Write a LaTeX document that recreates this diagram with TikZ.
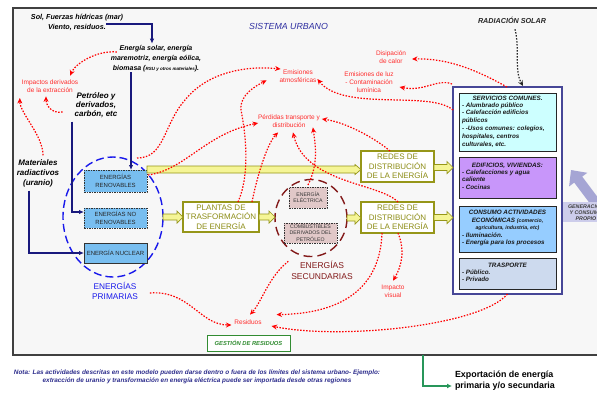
\documentclass[tikz,border=0pt]{standalone}
\usepackage{fontspec}
\setmainfont{Liberation Sans}
\usetikzlibrary{arrows.meta,calc,shapes.geometric}

\definecolor{impred}{RGB}{255,0,0}
\definecolor{labred}{RGB}{255,45,45}
\definecolor{navyln}{RGB}{25,25,125}
\definecolor{olivebd}{RGB}{150,150,25}
\definecolor{olivetx}{RGB}{140,140,20}
\definecolor{yelfill}{RGB}{245,245,150}
\definecolor{primblue}{RGB}{25,25,235}
\definecolor{boxblue}{RGB}{120,190,240}
\definecolor{secred}{RGB}{130,25,25}
\definecolor{secfill}{RGB}{225,200,200}
\definecolor{urbblue}{RGB}{45,45,160}
\definecolor{servcyan}{RGB}{205,255,255}
\definecolor{edifpurple}{RGB}{200,150,250}
\definecolor{consblue}{RGB}{150,205,255}
\definecolor{transblue}{RGB}{205,218,238}
\definecolor{framebg}{RGB}{247,247,247}
\definecolor{gestgreen}{RGB}{50,140,50}
\definecolor{expgreen}{RGB}{40,150,90}
\definecolor{genlav}{RGB}{165,165,212}
\definecolor{genbg}{RGB}{205,205,235}
\definecolor{notenavy}{RGB}{45,45,140}

\newcommand\fs[2]{\fontsize{#1}{#2}\selectfont}
\newcommand\bix{\bfseries\itshape}

% fat yellow arrow: #1 half shaft width, #2 extra head half width, #3 start, #4 end (x only)
\newcommand\fatarrow[4]{%
  \filldraw[fatar] let \p1=(#3), \p2=(#4) in
    (\x1,\y1+#1pt) -- (\x2-6pt,\y1+#1pt) -- (\x2-6pt,\y1+#1pt+#2pt) -- (\x2,\y1)
    -- (\x2-6pt,\y1-#1pt-#2pt) -- (\x2-6pt,\y1-#1pt) -- (\x1,\y1-#1pt) -- cycle;}

\tikzset{
  every node/.style={inner sep=0pt, outer sep=0pt},
  imp/.style={draw=impred, line width=1.2pt, dash pattern=on 1.5pt off 1.5pt,
    -{Stealth[length=5.5pt,width=5pt]}},
  sunimp/.style={imp, draw=black!85},
  nv/.style={draw=navyln, line width=1.1pt, -{Latex[length=5pt,width=4.5pt]}},
  lab/.style={text=labred, font=\fs{6.5}{8}, align=center},
  fatar/.style={fill=yelfill, draw=olivebd, line width=0.7pt},
  ebox/.style={draw=black!80, dash pattern=on 1.5pt off 1pt, line width=0.8pt,
    fill=boxblue, minimum width=63pt, align=center, font=\fs{6}{7.5}, text=black!85},
  secbox/.style={draw=black!80, dash pattern=on 1.5pt off 1pt, line width=0.8pt,
    fill=secfill, align=center, font=\fs{5.2}{6.3}, text=black!80},
  redbox/.style={draw=olivebd, line width=1.3pt, fill=white, text=olivetx,
    font=\fs{8}{9.5}, align=center},
  sbox/.style={draw=black!85, line width=0.9pt, minimum width=97pt},
  stitle/.style={font=\bix\fs{6.3}{7.8}, align=center, text=black!90},
  stext/.style={font=\bix\fs{6.3}{7.8}, align=left, text=black!90, anchor=north west},
}

\begin{document}
\begin{tikzpicture}[x=1pt,y=-1pt]
\useasboundingbox (0,0) rectangle (597,392);
\clip (0,0) rectangle (597,392);

% urban system frame
\node[draw=black!75, line width=1.1pt, fill=framebg, minimum width=600pt,
  minimum height=347pt, anchor=north west] (urb) at (13,8) {};

% headings and sources
\node[font=\bix\fs{7.2}{10}, align=center] (sol) at (77,22) {Sol, Fuerzas hídricas (mar)\\Viento, residuos.};
\node[font=\bix\fs{7}{10}, align=center] (esol) at (156,59)
  {Energía solar, energía\\maremotriz, energía eólica,\\biomasa ({\fs{4.5}{5}RSU y otros materiales}).};
\node[font=\itshape\fs{8.8}{9}, text=urbblue] (urbt) at (288.5,26) {SISTEMA URBANO};
\node[font=\bix\fs{7.2}{8}, text=black!85] (rad) at (512,20) {RADIACIÓN SOLAR};
\node[font=\bix\fs{8}{9}, align=center] (petro) at (96,105) {Petróleo y\\derivados,\\carbón, etc};
\node[font=\bix\fs{8}{10}, align=center] (mat) at (38,173) {Materiales\\radiactivos\\(uranio)};

% impact labels
\node[lab] (impx) at (50,86) {Impactos derivados\\de la extracción};
\node[lab] (emis) at (298,76) {Emisiones\\atmosféricas};
\node[lab] (disip) at (391,57) {Disipación\\de calor};
\node[lab] (emluz) at (369,82) {Emisiones de luz\\- Contaminación\\lumínica};
\node[lab] (perd) at (289,121) {Pérdidas transporte y\\distribución};
\node[lab] (resid) at (248,322) {Residuos};
\node[lab] (impv) at (393,291) {Impacto\\visual};

% primary energies
\node[draw=primblue, ellipse, line width=1.4pt, dash pattern=on 8pt off 4pt,
  minimum width=100pt, minimum height=120pt] (prim) at (113,217) {};
\node[ebox, minimum height=22pt] (ren) at (115.5,181) {ENERGÍAS\\RENOVABLES};
\node[ebox, minimum height=20pt] (nren) at (115.5,218) {ENERGÍAS NO\\RENOVABLES};
\node[ebox, solid, minimum height=20pt] (nuc) at (115.5,253) {ENERGÍA NUCLEAR};
\node[font=\fs{8.3}{10}, text=primblue, align=center] (primt) at (115,291) {ENERGÍAS\\PRIMARIAS};

% transformation
\node[redbox, minimum width=76pt, minimum height=30pt] (plant) at (221,217) {PLANTAS DE\\TRASFORMACIÓN\\DE ENERGÍA};

% secondary energies
\node[draw=secred, ellipse, line width=1.4pt, dash pattern=on 9pt off 5pt,
  minimum width=72pt, minimum height=77pt] (sec) at (311,218) {};
\node[secbox, minimum width=38pt, minimum height=21pt] (elec) at (308,197.5) {ENERGÍA\\ELÉCTRICA};
\node[secbox, minimum width=53pt, minimum height=20pt] (comb) at (310.5,233) {COMBUSTIBLES\\DERIVADOS DEL\\PETRÓLEO};
\node[font=\fs{8.5}{11}, text=secred, align=center] (sect) at (322,270.5) {ENERGÍAS\\SECUNDARIAS};

% distribution
\node[redbox, minimum width=73pt, minimum height=31pt] (red1) at (397.5,166.5) {REDES DE\\DISTRIBUCIÓN\\DE LA ENERGÍA};
\node[redbox, minimum width=73pt, minimum height=31pt] (red2) at (397.5,217.5) {REDES DE\\DISTRIBUCIÓN\\DE LA ENERGÍA};

% own generation and consumption
\draw[genlav, line width=10pt, -{Triangle[length=12pt,width=22pt]}] (604,214) -- (571,170);
\node[fill=genbg, minimum width=48pt, minimum height=20pt, font=\bix\fs{5.3}{6},
  text=black!75, align=center] (gen) at (586,212) {GENERACIÓN\\Y CONSUMO\\PROPIO};

% consumption sectors
\node[draw=navyln!80, line width=1.2pt, fill=white, minimum width=109pt, minimum height=207pt] (serv) at (507.5,190.5) {};
\node[sbox, fill=servcyan, minimum height=58pt] (sc) at (507.5,122) {};
\node[sbox, fill=edifpurple, minimum height=41pt] (ed) at (507.5,177.5) {};
\node[sbox, fill=consblue, minimum height=46pt] (ca) at (507.5,229) {};
\node[sbox, fill=transblue, minimum height=31pt] (tr) at (507.5,273.5) {};

\node[stitle] (sct) at (507.5,98) {SERVICIOS COMUNES.};
\node[stext] (scb) at (462,102.5) {- Alumbrado público\\- Calefacción edificios\\públicos\\- -Usos comunes: colegios,\\hospitales, centros\\culturales, etc.};
\node[stitle] (edt) at (507.5,166) {EDIFICIOS, VIVIENDAS:};
\node[stext] (edb) at (462,169.5) {- Calefacciones y agua\\caliente\\- Cocinas};
\node[stitle] (cat) at (507.5,220.5) {CONSUMO ACTIVIDADES\\ECONÓMICAS {\fs{5.2}{6}(comercio,}\\{\fs{5.2}{6}agricultura, industria, etc)}};
\node[stext] (cab) at (462,232.5) {- Iluminación.\\- Energía para los procesos};
\node[stitle] (trt) at (507.5,265) {TRASPORTE};
\node[stext] (trb) at (462,269.5) {- Público.\\- Privado};

% waste management
\node[draw=gestgreen, line width=1pt, fill=white, minimum width=83pt, minimum height=16pt,
  font=\bix\fs{5.8}{6}, text=gestgreen] (gest) at (248.5,343) {GESTIÓN DE RESIDUOS};

% yellow flow arrows
\fatarrow{3.5}{1.5}{$(ren.east |- red1.west)+(0,3)$}{red1.west}
\fatarrow{3}{3}{prim.east}{plant.west}
\fatarrow{3}{3}{plant.east}{sec.west}
\fatarrow{3}{3}{sec.east}{red2.west}
\fatarrow{3}{3}{$(red1.east)+(0,1)$}{serv.west}
\fatarrow{3}{3}{red2.east}{serv.west}

% supply lines
\coordinate (etop) at ($(esol.north)+(-4,-2)$);
\draw[nv] ($(sol.east)+(-17,2)$) -| (etop);
\coordinate (rtop) at ($(ren.north east)+(-16,0)$);
\draw[nv] (rtop |- esol.south) -- (rtop);
\coordinate (pbot) at ($(petro.south)+(-24,4)$);
\draw[nv] (pbot) |- ($(nren.west)+(0,-6)$);
\coordinate (mbot) at ($(mat.south)+(-9,4)$);
\draw[nv] (mbot) |- (nuc.west);

% impacts
\draw[imp] ($(esol.west)+(6,-7)$) .. controls +(-20,-2) and +(5,-12) .. ($(impx.north east)+(-8,-4)$);
\draw[imp] ($(petro.west)+(-12,7)$) .. controls +(-12,2) and +(0,8) .. ($(impx.south)+(-4,4)$);
\draw[imp] ($(mat.north)+(5,-4)$) .. controls +(0,-20) and +(0,15) .. ($(impx.west)+(-2,12)$);
\draw[imp] ($(ren.north east)+(-10,-12)$) .. controls +(28,0) and +(-22,25) .. (185,100)
  .. controls +(20,-25) and +(-40,-4) .. ($(emis.west)+(1,-7)$);
\draw[imp] ($(ren.east)+(1,-6)$) .. controls +(37,-5) and +(-53,11) .. ($(perd.west)+(0,2)$);
\draw[imp] ($(plant.north)+(17,0)$) .. controls +(12,-27) and +(5,25) .. (241,110)
  .. controls +(-2,-15) and +(-10,5) .. ($(emis.south west)+(-13,-2)$);
\draw[imp] ($(plant.north)+(31,0)$) .. controls +(6,-30) and +(-10,10) .. ($(perd.south west)+(20,5)$);
\draw[imp] ($(elec.north)+(0,-2)$) .. controls +(10,-20) and +(3,20) .. ($(perd.south east)+(-7,0)$);
\draw[imp] ($(red2.north)+(0.5,0)$) .. controls +(-18,-19) and +(12,51) .. ($(perd.south)+(4,5)$);
\draw[imp] ($(red1.north)+(-7.5,0)$) .. controls +(-15,-13) and +(23,3) .. ($(perd.east)+(2,-2)$);
\draw[imp] ($(serv.north west)+(0,23)$) .. controls +(-23,-20) and +(26,33) .. ($(emis.east)+(1,3)$);
\draw[imp] ($(serv.north)+(-0.5,0)$) .. controls +(-27,-15) and +(38,-1) .. ($(disip.east)+(6,2)$);
\draw[imp] ($(serv.north west)+(-1,-3)$) .. controls +(-14,-6) and +(25,5) .. ($(emluz.east)+(6,5)$);
\draw[sunimp] ($(rad.south)+(3,6)$) .. controls +(5,20) and +(-9,-16) .. ($(serv.north)+(15.5,-1)$);
\draw[imp] ($(red2.south)+(-15.5,0)$) .. controls +(-2,57) and +(63,-1) .. ($(resid.north east)+(15,-5)$);
\draw[imp] ($(sect.north west)+(-3,0)$) .. controls +(-20,16) and +(12,-13) .. ($(resid.north)+(2,-5)$);
\draw[imp] ($(primt.east)+(12,2)$) .. controls +(40,-3) and +(-32,0) .. ($(resid.west)+(-3,3)$);
\draw[imp] (serv.south) .. controls +(-27,32) and +(68,14) .. ($(resid.east)+(10,4)$);
\draw[imp] ($(red2.south)+(0.5,0)$) .. controls +(7,17) and +(9,-15) .. ($(impv.north)+(0,-4)$);

% note and export
\node[font=\bix\fs{6.4}{8}, text=notenavy, align=center] (nota) at (197,377)
  {Nota: Las actividades descritas en este modelo pueden darse dentro o fuera de los límites del sistema urbano- Ejemplo:\\extracción de uranio y transformación en energía eléctrica puede ser importada desde otras regiones};
\node[font=\bfseries\fs{8.9}{11}, align=left, anchor=west] (expo) at (455,380.5) {Exportación de energía\\primaria y/o secundaria};
\draw[draw=expgreen, line width=1.2pt, -{Latex[length=5pt,width=5pt]}]
  ($(urb.south west)+(410,0)$) |- ($(expo.west)+(-3,5.5)$);
\end{tikzpicture}
\end{document}
